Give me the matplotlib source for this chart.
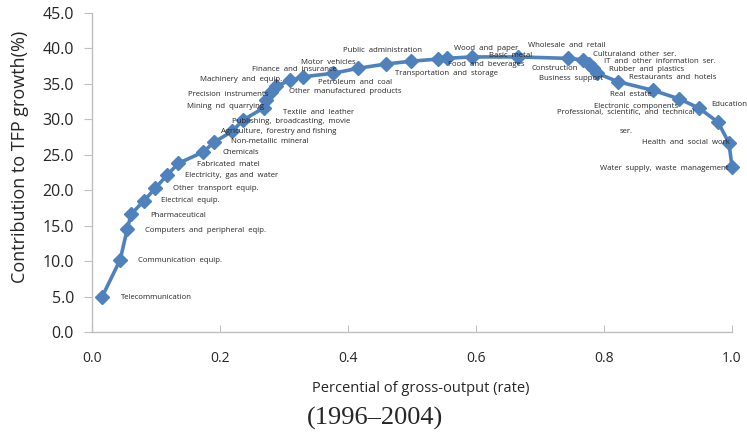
import matplotlib
matplotlib.use("Agg")
import matplotlib.pyplot as plt
from matplotlib.ticker import FormatStrFormatter

plt.rcParams['font.family'] = ['Open Sans', 'DejaVu Sans']

# industries ordered by cumulative share of gross output
sectors = [
    "Telecommunication", "Communication  equip.", "Computers  and  peripheral  eqip.",
    "Pharmaceutical", "Electrical  equip.", "Other  transport  equip.",
    "Electricity,  gas and  water", "Fabricated  matel", "Chemicals",
    "Non-metallic  mineral", "Agriculture,  forestry and fishing",
    "Publishing,  broadcasting,  movie", "Textile  and  leather",
    "Mining  nd  quarrying", "Precision  instruments", "Machinery  and  equip.",
    "Finance  and  insurance", "Other  manufactured  products", "Motor  vehicles",
    "Petroleum  and  coal", "Public  administration", "Transportation  and  storage",
    "Food  and  beverages", "Wood  and  paper", "Basic  metal", "Wholesale  and  retail",
    "Construction", "Culturaland  other  ser.", "IT  and  other  information  ser.",
    "Business  support", "Rubber  and  plastics", "Restaurants  and  hotels",
    "Real  estate", "Electronic  components", "Education",
    "Professional,  scientific,  and  technical\n\nser.", "Health  and  social  work",
    "Water  supply,  waste  management",
]
output_pct = [
    0.016, 0.044, 0.055, 0.061, 0.081, 0.099, 0.117, 0.135, 0.174, 0.191,
    0.219, 0.236, 0.268, 0.272, 0.279, 0.288, 0.310, 0.330, 0.377, 0.416,
    0.459, 0.499, 0.541, 0.554, 0.593, 0.665, 0.743, 0.767, 0.776, 0.782,
    0.789, 0.822, 0.876, 0.917, 0.948, 0.978, 0.995, 1.000,
]
tfp_contrib = [
    5.0, 10.2, 14.5, 16.6, 18.5, 20.3, 22.1, 23.8, 25.4, 26.8,
    28.3, 29.9, 31.6, 32.7, 33.9, 34.7, 35.5, 36.0, 36.5, 37.2,
    37.8, 38.2, 38.5, 38.6, 38.8, 38.8, 38.6, 38.4, 37.8, 37.2,
    36.5, 35.3, 34.1, 32.9, 31.6, 29.6, 26.7, 23.3,
]

# label placement (pixel offsets from each marker)
label_offsets = [
    (19, -1), (18, -1), (18, -1), (19, -1), (17, 0), (18, 0), (18, 0), (19, -1),
    (19, -1), (17, 0), (-11, 0), (-11, -1), (19, -5), (-79, -6), (-83, -3),
    (-76, 6), (-38, 11), (-14, -15), (-32, 11), (-40, -14), (-43, 14),
    (-16, -12), (10, -5), (7, 10), (17, 1), (10, 11), (-36, -10), (10, 5),
    (15, 3), (-54, -10), (12, 4), (11, 4), (-43, -4), (-85, -8), (12, 3),
    (-92, 0), (-87, 0), (-132, -2),
]

line_color = "#4F81BD"
axis_color = "#BFBFBF"

fig = plt.figure(figsize=(7.47, 4.40), dpi=100)
ax = fig.add_axes([0.1232, 0.2455, 0.8568, 0.725])

ax.plot(output_pct, tfp_contrib, color=line_color, linewidth=2.6,
        marker="D", markersize=7, markerfacecolor=line_color,
        markeredgecolor=line_color, zorder=3, clip_on=False)

for name, x, y, (dx, dy) in zip(sectors, output_pct, tfp_contrib, label_offsets):
    ha = "center" if "\n" in name else "left"
    ax.annotate(name, (x, y), xytext=(dx, dy), textcoords="offset pixels",
                fontsize=5.6, ha=ha, va="center", color="#262626",
                linespacing=1.5, zorder=4)

ax.set_xlim(0, 1.0)
ax.set_ylim(0, 45)
ax.set_xticks([0.0, 0.2, 0.4, 0.6, 0.8, 1.0])
ax.set_yticks(range(0, 46, 5))
ax.xaxis.set_major_formatter(FormatStrFormatter("%.1f"))
ax.yaxis.set_major_formatter(FormatStrFormatter("%.1f"))

for side in ("top", "right"):
    ax.spines[side].set_visible(False)
for side in ("left", "bottom"):
    ax.spines[side].set_color(axis_color)
    ax.spines[side].set_linewidth(1.0)

ax.tick_params(axis="y", direction="out", length=6, color=axis_color,
               labelsize=11.5, pad=7, labelcolor="#262626")
ax.tick_params(axis="x", direction="in", length=5, color=axis_color,
               labelsize=10, pad=14, labelcolor="#262626")

ax.set_ylabel("Contribution to TFP growth(%)", fontsize=13, color="#262626")
ax.yaxis.set_label_coords(-0.098, 0.549)
ax.set_xlabel("Percential of gross-output (rate)", fontsize=10.5, color="#262626")
ax.xaxis.set_label_coords(0.514, -0.155)

fig.text(0.502, 0.05, "(1996\u20132004)", fontsize=19, ha="center", va="center",
         family=["Liberation Serif", "DejaVu Serif"], color="#262626")

fig.savefig("out.png", dpi=100)
